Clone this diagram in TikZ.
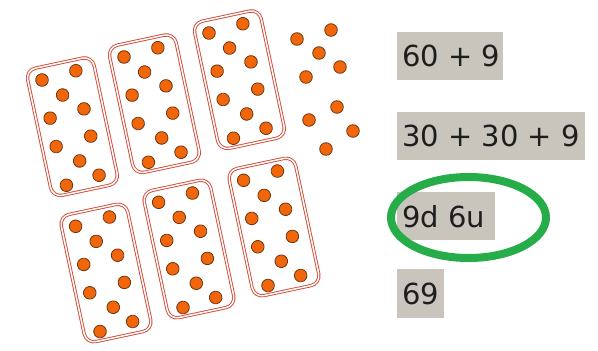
\documentclass[tikz,border=0pt]{standalone}
\usepackage{fontspec}
\setmainfont{DejaVu Sans}
\definecolor{cardred}{RGB}{214,70,52}
\definecolor{dotorange}{RGB}{242,102,10}
\definecolor{dotedge}{RGB}{110,55,20}
\definecolor{boxgray}{RGB}{201,197,189}
\definecolor{ringgreen}{RGB}{38,172,72}
\definecolor{txt}{RGB}{30,30,30}
\tikzset{
  card/.style={draw=cardred, line width=0.9pt, double=white, double distance=1.5pt, rounded corners=10pt},
  dot/.style={fill=dotorange, draw=dotedge, line width=0.8pt},
  sumbox/.style={fill=boxgray, anchor=north west, inner xsep=5pt, inner ysep=0pt,
    text=txt, font=\fontsize{29}{29}\selectfont},
  ring/.style={draw=ringgreen, line width=8pt}
}
\begin{document}
\begin{tikzpicture}[x=1pt,y=-1pt]
\useasboundingbox (0,0) rectangle (598,351);
% cards
\foreach \cx/\cy in {72.4/126.7, 154.4/103.7, 239.4/79.7, 106/273, 189/249, 274/227}{
  \begin{scope}[shift={(\cx,\cy)}, rotate=12]
    \draw[card] (-34,-65) rectangle (34,65);
    \foreach \u/\v in {-20/-52, 15/-54, -3/-33, 15/-15, -20/-13, 16/13, -20/16, 0/35, 16/53, -18/56}{
      \filldraw[dot] (\u,\v) circle (6.3);
    }
  \end{scope}
}
% loose dots
\foreach \x/\y in {297/39, 331/30, 319/53, 340/67, 306/77, 337/107, 309/120, 353/131, 326/149}{
  \filldraw[dot] (\x,\y) circle (6.3);
}
% sum boxes
\node[sumbox, minimum height=48] (b1) at (397,32) {\makebox[96pt][l]{60 + 9}};
\node[sumbox, minimum height=48] (b2) at (397,112) {\makebox[178pt][l]{30 + 30 + 9}};
\node[sumbox, minimum height=48] (b3) at (397,192) {\makebox[88pt][l]{9d 6u}};
\node[sumbox, minimum height=49] (b4) at (397,269) {\makebox[37pt][l]{69}};
% green ring
\draw[ring] (468.5,217.5) ellipse [x radius=77.5, y radius=40.5];
\end{tikzpicture}
\end{document}
